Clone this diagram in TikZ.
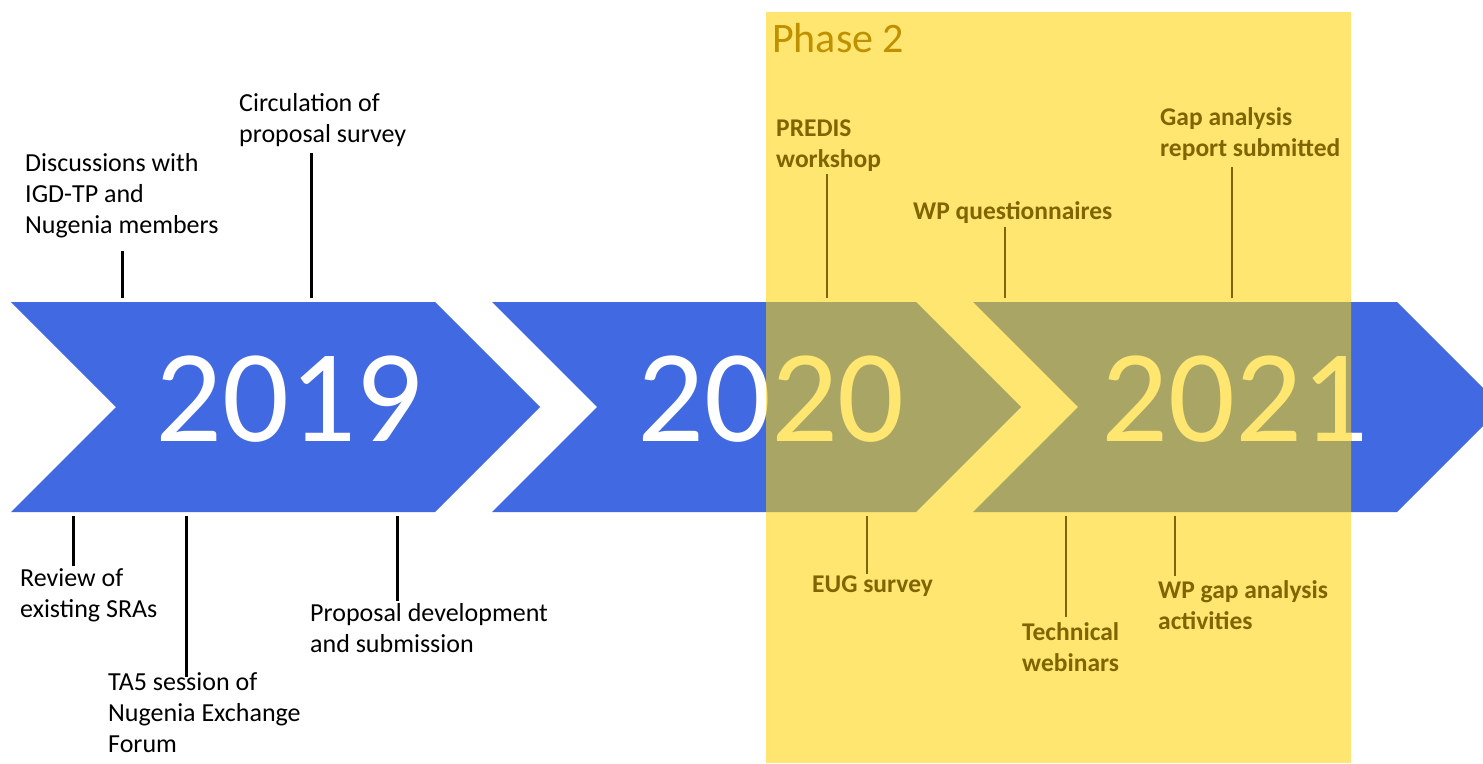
\documentclass[tikz,border=0pt]{standalone}
\usepackage{fontspec}
\setmainfont{Carlito}
\usetikzlibrary{positioning}

\definecolor{chevblue}{RGB}{65,105,225}
\definecolor{phaseyellow}{RGB}{255,230,112}
\definecolor{phaseolive}{RGB}{169,166,101}
\definecolor{phasegold}{RGB}{191,144,0}
\definecolor{phasetext}{RGB}{127,100,0}

\begin{document}
\begin{tikzpicture}[x=1pt, y=-1pt,
	chev/.style={fill=chevblue},
	year/.style={font=\fontsize{132}{132}\selectfont, text=white, inner sep=0pt},
	lbl/.style={font=\fontsize{26}{31}\selectfont, align=left, inner sep=0pt, anchor=north west},
	plbl/.style={lbl, font=\fontsize{25.5}{31}\selectfont\bfseries, text=phasetext},
	tick/.style={line width=3pt, shorten <=4pt},
	ptick/.style={tick, line width=2.5pt, draw=phasetext}]

		\clip (0,0) rectangle (1483,763);

		% timeline
		\foreach \x/\t/\yr in {11/289/2019, 492/771/2020, 973/1235/2021} {
			\fill[chev] (\x,302) -- ++(424,0) -- ++(105,105) -- ++(-105,105) -- ++(-424,0) -- ++(105,-105) -- cycle;
			\node[year] (y\yr) at (\t,399) {\yr};
		}

		% phase 2 box
		\fill[phaseyellow] (766,12) rectangle (1351,763);
		\begin{scope}
			\clip (766,12) rectangle (1351,763);
			\foreach \x/\t/\yr in {492/771/2020, 973/1235/2021} {
				\fill[phaseolive] (\x,302) -- ++(424,0) -- ++(105,105) -- ++(-105,105) -- ++(-424,0) -- ++(105,-105) -- cycle;
				\node[year, text=phaseyellow] at (\t,399) {\yr};
			}
		\end{scope}
		\node[font=\fontsize{42}{42}\selectfont, text=phasegold, anchor=base west, inner sep=0pt] (phase) at (772,52) {Phase 2};

		% tick points on the timeline
		\foreach \n/\x in {discuss/122, circ/311, predis/827, wpq/1005, gapr/1232}
			\coordinate (t-\n) at (\x,302);
		\foreach \n/\x in {review/73, ta5/186, propdev/397, eug/867, tech/1066, wpgap/1175}
			\coordinate (t-\n) at (\x,512);

		% events
		\node[lbl] (discuss) at (25,153) {Discussions with\\IGD-TP and\\Nugenia members};
		\node[lbl] (circ) at (239,93) {Circulation of\\proposal survey};
		\node[lbl] (review) at (20,568) {Review of\\existing SRAs};
		\node[lbl] (ta5) at (108,672) {TA5 session of\\Nugenia Exchange\\Forum};
		\node[lbl] (propdev) at (310,603) {Proposal development\\and submission};
		\node[plbl] (predis) at (776,120) {PREDIS\\workshop};
		\node[plbl] (wpq) at (913,201) {WP questionnaires};
		\node[plbl] (gapr) at (1160,107) {Gap analysis\\report submitted};
		\node[plbl] (eug) at (812,576) {EUG survey};
		\node[plbl] (tech) at (1022,622) {Technical\\webinars};
		\node[plbl] (wpgap) at (1158,580) {WP gap analysis\\activities};

		\draw[tick, shorten >=13pt] (t-discuss) -- (t-discuss |- discuss.south);
		\draw[tick, shorten >=6pt] (t-circ) -- (t-circ |- circ.south);
		\draw[tick, shorten >=2pt] (t-review) -- (t-review |- review.north);
		\draw[tick, shorten >=-5pt] (t-ta5) -- (t-ta5 |- ta5.north);
		\draw[tick, shorten >=2pt] (t-propdev) -- (t-propdev |- propdev.north);
		\draw[ptick, shorten >=2pt] (t-predis) -- (t-predis |- predis.south);
		\draw[ptick, shorten >=4pt] (t-wpq) -- (t-wpq |- wpq.south);
		\draw[ptick, shorten >=7pt] (t-gapr) -- (t-gapr |- gapr.south);
		\draw[ptick, shorten >=2pt] (t-eug) -- (t-eug |- eug.north);
		\draw[ptick, shorten >=5pt] (t-tech) -- (t-tech |- tech.north);
		\draw[ptick, shorten >=4pt] (t-wpgap) -- (t-wpgap |- wpgap.north);
	\end{tikzpicture}
\end{document}
